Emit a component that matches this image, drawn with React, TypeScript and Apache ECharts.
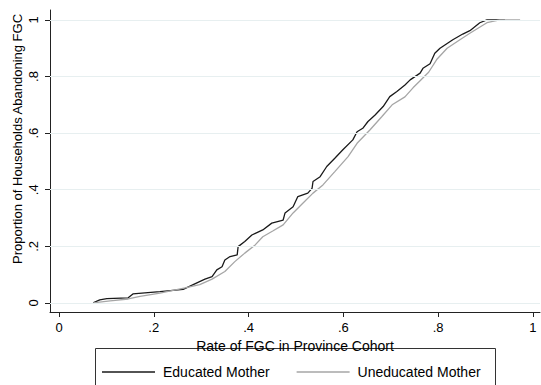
import React, { useEffect, useRef } from "react";
import * as echarts from "echarts";

const tickValues = [0, 0.2, 0.4, 0.6, 0.8, 1];
const tickLabels = ["0", ".2", ".4", ".6", ".8", "1"];

const educatedRate = [
  0.072, 0.086, 0.101, 0.146, 0.156, 0.213, 0.262, 0.291, 0.308, 0.323, 0.333,
  0.344, 0.35, 0.361, 0.376, 0.378, 0.392, 0.407, 0.43, 0.449, 0.473, 0.477,
  0.494, 0.504, 0.525, 0.534, 0.536, 0.551, 0.565, 0.582, 0.599, 0.62, 0.629,
  0.641, 0.652, 0.667, 0.684, 0.698, 0.713, 0.73, 0.741, 0.762, 0.768, 0.783,
  0.793, 0.804, 0.831, 0.852, 0.867, 0.888, 0.903, 0.941,
];
const educatedShare = [
  0.0, 0.011, 0.015, 0.018, 0.032, 0.04, 0.048, 0.071, 0.084, 0.093, 0.117,
  0.128, 0.152, 0.164, 0.17, 0.199, 0.217, 0.24, 0.258, 0.282, 0.293, 0.318,
  0.34, 0.376, 0.388, 0.405, 0.429, 0.446, 0.482, 0.511, 0.541, 0.576, 0.605,
  0.617, 0.641, 0.664, 0.694, 0.729, 0.747, 0.77, 0.788, 0.812, 0.829, 0.845,
  0.882, 0.9, 0.93, 0.95, 0.962, 0.99, 1.0, 1.0,
];

const uneducatedRate = [
  0.072, 0.108, 0.146, 0.171, 0.213, 0.266, 0.297, 0.323, 0.35, 0.371, 0.392,
  0.414, 0.43, 0.451, 0.473, 0.494, 0.515, 0.536, 0.557, 0.582, 0.61, 0.629,
  0.656, 0.681, 0.703, 0.73, 0.747, 0.762, 0.78, 0.797, 0.819, 0.846, 0.867,
  0.903, 0.93, 0.973,
];
const uneducatedShare = [
  0.0, 0.007, 0.014, 0.023, 0.035, 0.053, 0.065, 0.084, 0.111, 0.146, 0.176,
  0.205, 0.234, 0.254, 0.276, 0.318, 0.353, 0.388, 0.417, 0.464, 0.517, 0.564,
  0.611, 0.658, 0.7, 0.728, 0.76, 0.785, 0.815, 0.86, 0.9, 0.93, 0.953, 0.99,
  1.0, 1.0,
];

const FONT = "'Liberation Sans', Arial, Helvetica, sans-serif";

function fmt(v: number): string {
  let best = 0;
  for (let i = 0; i < tickValues.length; i++) {
    if (Math.abs(tickValues[i] - v) < Math.abs(tickValues[best] - v)) best = i;
  }
  return tickLabels[best];
}

export default function App() {
  const ref = useRef<HTMLDivElement>(null);
  useEffect(() => {
    if (!ref.current) return;
    const chart = echarts.init(ref.current, undefined, { renderer: "svg" });
    chart.setOption({
      animation: false,
      backgroundColor: "#ffffff",
      textStyle: { fontFamily: FONT, color: "#000" },
      grid: { left: 50, right: 1, top: 10, bottom: 73, containLabel: false },
      xAxis: {
        type: "value",
        min: -0.019,
        max: 1.015,
        name: "Rate of FGC in Province Cohort",
        nameLocation: "middle",
        nameGap: 17,
        nameTextStyle: { fontSize: 14, color: "#000", fontFamily: FONT },
        axisLine: { show: true, onZero: false, lineStyle: { color: "#222", width: 1 } },
        axisTick: { show: true, customValues: tickValues, length: 5, lineStyle: { color: "#222" } },
        axisLabel: {
          customValues: tickValues,
          formatter: (v: number) => fmt(v),
          fontSize: 13,
          color: "#000",
          margin: 9,
          fontFamily: FONT,
        },
        splitLine: { show: false },
      },
      yAxis: {
        type: "value",
        min: -0.032,
        max: 1.035,
        axisLine: { show: true, onZero: false, lineStyle: { color: "#222", width: 1 } },
        axisTick: { show: true, customValues: tickValues, length: 5, lineStyle: { color: "#222" } },
        axisLabel: {
          customValues: tickValues,
          formatter: (v: number) => fmt(v),
          fontSize: 13,
          color: "#000",
          rotate: 90,
          margin: 10,
          fontFamily: FONT,
        },
        splitLine: { show: false },
      },
      legend: {
        left: 102,
        top: 365,
        orient: "horizontal",
        padding: 0,
        icon: "rect",
        itemWidth: 53,
        itemHeight: 1.5,
        itemGap: 27,
        textStyle: { fontSize: 14, color: "#000", fontFamily: FONT, padding: [0, 0, 0, 3] },
        data: ["Educated Mother", "Uneducated Mother"],
      },
      series: [
        {
          name: "Educated Mother",
          type: "line",
          showSymbol: false,
          symbol: "none",
          data: educatedRate.map((x, i) => [x, educatedShare[i]]),
          lineStyle: { color: "#1a1a1a", width: 1.3 },
          itemStyle: { color: "#1a1a1a" },
          z: 3,
          markLine: {
            silent: true,
            symbol: ["none", "none"],
            label: { show: false },
            lineStyle: { color: "#e7eff0", width: 1, type: "solid" },
            data: tickValues.map((v) => ({ yAxis: v })),
          },
        },
        {
          name: "Uneducated Mother",
          type: "line",
          showSymbol: false,
          symbol: "none",
          data: uneducatedRate.map((x, i) => [x, uneducatedShare[i]]),
          lineStyle: { color: "#a6a6a6", width: 1.3 },
          itemStyle: { color: "#a6a6a6" },
          z: 4,
        },
      ],
      graphic: [
        {
          type: "text",
          x: 17,
          y: 139,
          rotation: Math.PI / 2,
          style: {
            text: "Proportion of Households Abandoning FGC",
            fontSize: 13,
            fontFamily: FONT,
            fill: "#000",
            align: "center",
            verticalAlign: "middle",
          },
        },
        {
          type: "rect",
          shape: { x: 95.5, y: 348.5, width: 400, height: 50 },
          style: { fill: "none", stroke: "#333", lineWidth: 1 },
          silent: true,
        },
      ],
    });
    return () => chart.dispose();
  }, []);
  return (
    <div
      ref={ref}
      style={{ position: "fixed", left: 0, top: 0, width: 541, height: 385, background: "#fff" }}
    />
  );
}
